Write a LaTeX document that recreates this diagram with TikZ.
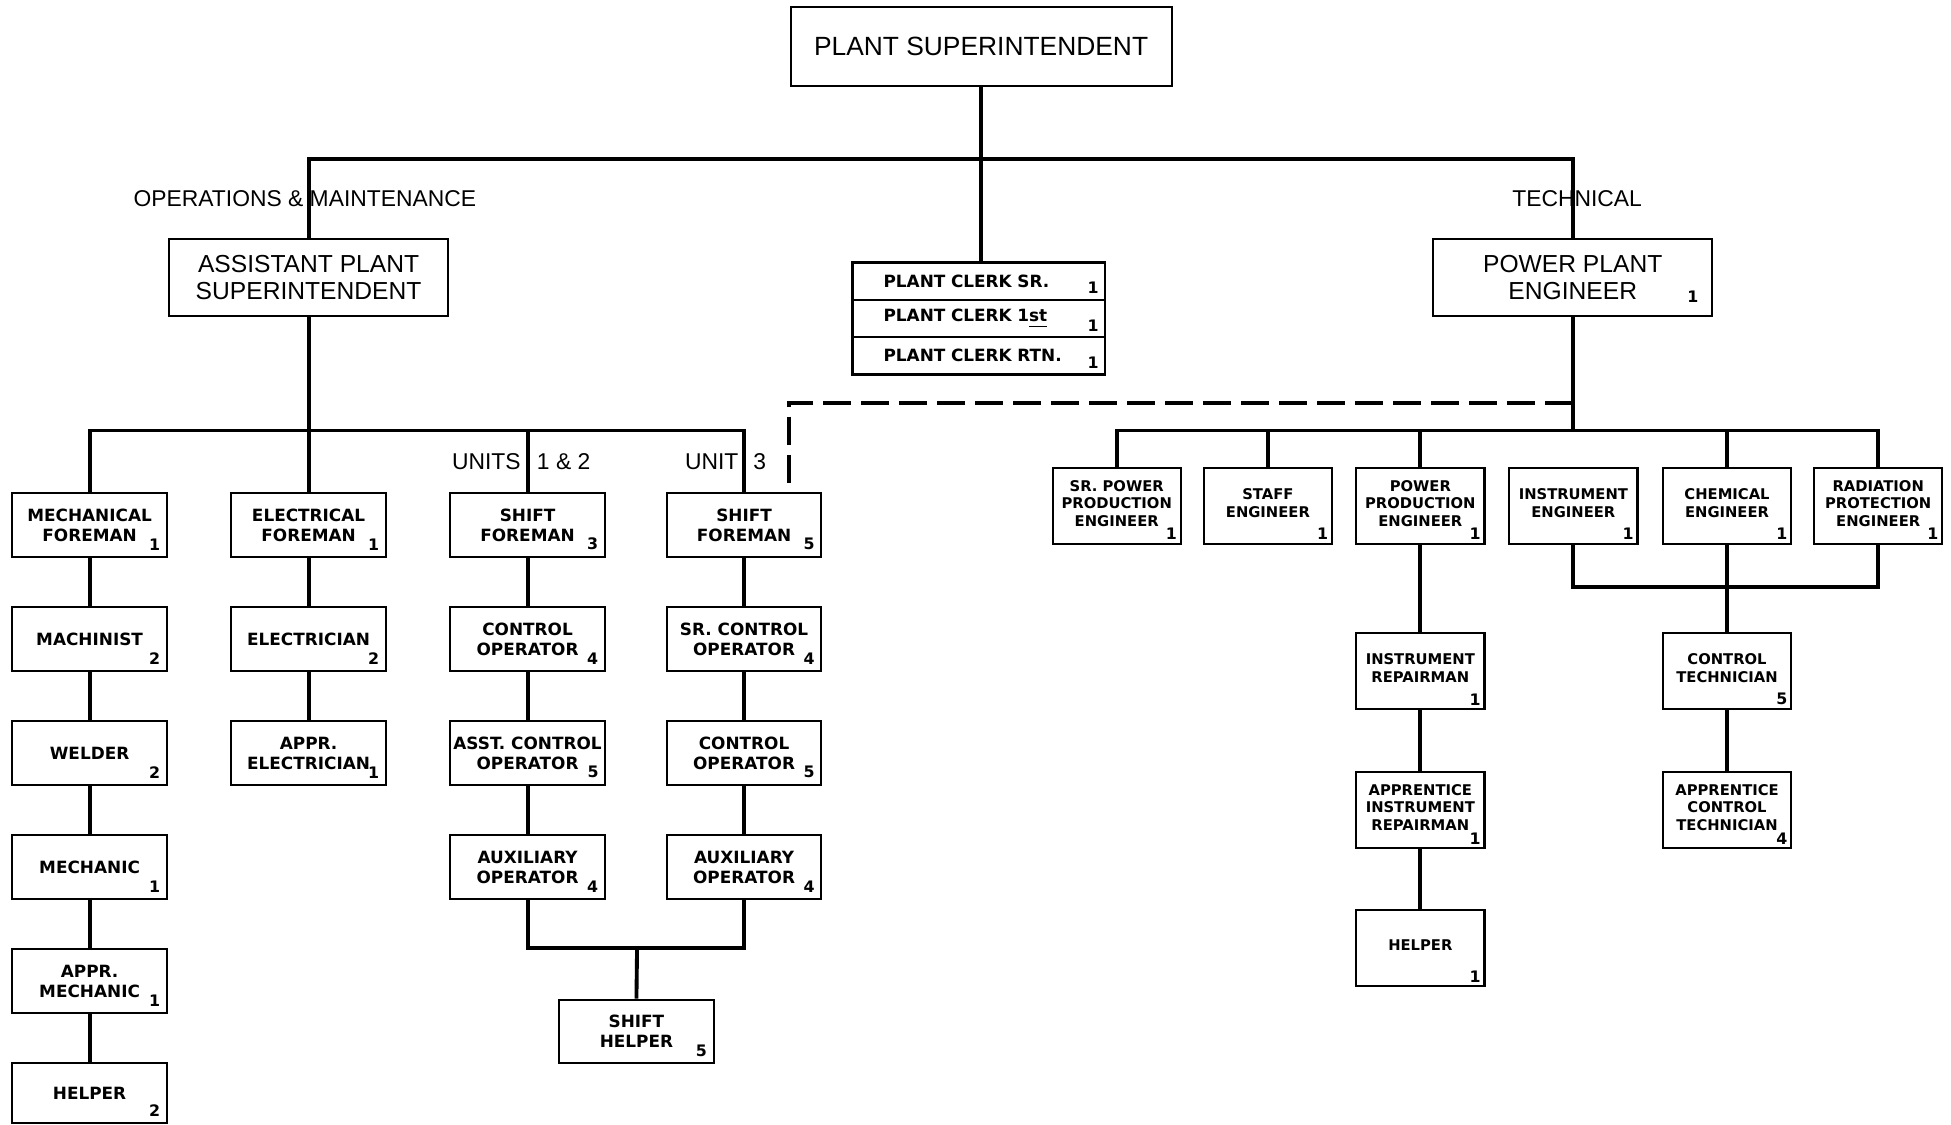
\documentclass[tikz,border=0pt]{standalone}
\usepackage{fontspec}
\newfontfamily\headfont{Liberation Sans}
\newfontfamily\boxfont{DejaVu Sans}
\usetikzlibrary{positioning, calc}

\begin{document}
\begin{tikzpicture}[x=0.012443cm, y=-0.012443cm, node distance=0.483cm,
    link/.style={line width=1.1pt},
    dashlink/.style={line width=1.1pt, dash pattern=on 8pt off 2.8pt},
    head/.style={draw, line width=0.6pt, align=center, font=\headfont\fontsize{7}{7.8}\selectfont},
    post/.style={draw, line width=0.6pt, align=center, inner sep=1pt,
        minimum width=1.543cm, minimum height=0.635cm,
        font=\boxfont\bfseries\fontsize{4.8}{5.7}\selectfont},
    tech/.style={post, minimum width=1.282cm, minimum height=0.759cm, text depth=1.5pt,
        font=\boxfont\bfseries\fontsize{4.2}{5}\selectfont},
    clerk/.style={post, minimum height=0.373cm, text width=1.9cm, inner xsep=0.31cm,
        align=left, outer sep=0pt},
    num/.style={anchor=south east, inner sep=2pt, font=\boxfont\bfseries\fontsize{4.5}{5}\selectfont},
    tnum/.style={num, inner sep=1.2pt},
    tag/.style={inner sep=0pt, font=\headfont\fontsize{6.5}{7}\selectfont}]
  \fill[white] (0,0) rectangle (1568,904);
  \useasboundingbox (0,0) rectangle (1568,904);

  % top of the chart
  \node[head, minimum width=3.808cm, minimum height=0.784cm,
        font=\headfont\fontsize{7.5}{8}\selectfont] (ps) at (788.5,37.5) {PLANT SUPERINTENDENT};
  \node[head, minimum width=2.787cm, minimum height=0.771cm] (aps) at (248,223) {ASSISTANT PLANT\\SUPERINTENDENT};
  \node[head, minimum width=2.787cm, minimum height=0.771cm,
        label={[num, inner sep=4pt]south east:1}] (ppe) at (1264,223) {POWER PLANT\\ENGINEER};
  \node[clerk, label={[num, inner sep=1.5pt]south east:1}] (clerka) at (786.5,226) {PLANT CLERK SR.};
  \node[clerk, below=0pt of clerka, label={[num, inner sep=1.5pt]south east:1}] (clerkb) {PLANT CLERK 1\underline{st}};
  \node[clerk, below=0pt of clerkb, label={[num, inner sep=1.5pt]south east:1}] (clerkc) {PLANT CLERK RTN.};

  \node[tag] (opm) at (245,160) {OPERATIONS \& MAINTENANCE};
  \node[tag] (techn) at (1267.5,160) {TECHNICAL};
  \node[tag, anchor=east] (unitsa) at (419,371) {UNITS};
  \node[tag, anchor=west] (unitsb) at (431,371) {1 \& 2};
  \node[tag, anchor=east] (unita) at (594,371) {UNIT};
  \node[tag, anchor=west] (unitb) at (605,371) {3};

  % operations & maintenance
  \node[post, label={[num]south east:1}] (mf) at (72,422) {MECHANICAL\\FOREMAN};
  \node[post, below=of mf, label={[num]south east:2}] (mach) {MACHINIST};
  \node[post, below=of mach, label={[num]south east:2}] (weld) {WELDER};
  \node[post, below=of weld, label={[num]south east:1}] (mech) {MECHANIC};
  \node[post, below=of mech, label={[num]south east:1}] (amech) {APPR.\\MECHANIC};
  \node[post, below=of amech, minimum height=0.6cm, label={[num]south east:2}] (help) {HELPER};

  \node[post, label={[num]south east:1}] (ef) at (248,422) {ELECTRICAL\\FOREMAN};
  \node[post, below=of ef, label={[num]south east:2}] (elec) {ELECTRICIAN};
  \node[post, below=of elec, label={[num]south east:1}] (aelec) {APPR.\\ELECTRICIAN};

  \node[post, label={[num]south east:3}] (sfa) at (424,422) {SHIFT\\FOREMAN};
  \node[post, below=of sfa, label={[num]south east:4}] (coa) {CONTROL\\OPERATOR};
  \node[post, below=of coa, label={[num]south east:5}] (acoa) {ASST. CONTROL\\OPERATOR};
  \node[post, below=of acoa, label={[num]south east:4}] (aoa) {AUXILIARY\\OPERATOR};

  \node[post, label={[num]south east:5}] (sfb) at (598,422) {SHIFT\\FOREMAN};
  \node[post, below=of sfb, label={[num]south east:4}] (scob) {SR. CONTROL\\OPERATOR};
  \node[post, below=of scob, label={[num]south east:5}] (cob) {CONTROL\\OPERATOR};
  \node[post, below=of cob, label={[num]south east:4}] (aob) {AUXILIARY\\OPERATOR};

  \node[post, label={[num]south east:5}] (sh) at (511.5,829) {SHIFT\\HELPER};

  % technical
  \node[tech, label={[tnum]south east:1}] (spe) at (897.5,406.5) {SR. POWER\\PRODUCTION\\ENGINEER};
  \node[tech, label={[tnum]south east:1}] (se) at (1019,406.5) {STAFF\\ENGINEER};
  \node[tech, label={[tnum]south east:1}] (ppre) at (1141.5,406.5) {POWER\\PRODUCTION\\ENGINEER};
  \node[tech, label={[tnum]south east:1}] (ie) at (1264.5,406.5) {INSTRUMENT\\ENGINEER};
  \node[tech, label={[tnum]south east:1}] (ce) at (1388,406.5) {CHEMICAL\\ENGINEER};
  \node[tech, label={[tnum]south east:1}] (rpe) at (1509.5,406.5) {RADIATION\\PROTECTION\\ENGINEER};

  \node[tech, below=0.87cm of ppre, label={[tnum]south east:1}] (ir) {INSTRUMENT\\REPAIRMAN};
  \node[tech, below=0.61cm of ir, label={[tnum]south east:1}] (air) {APPRENTICE\\INSTRUMENT\\REPAIRMAN};
  \node[tech, below=0.6cm of air, label={[tnum]south east:1}] (rhelp) {HELPER};
  \node[tech, below=0.87cm of ce, label={[tnum]south east:5}] (ct) {CONTROL\\TECHNICIAN};
  \node[tech, below=0.61cm of ct, label={[tnum]south east:4}] (act) {APPRENTICE\\CONTROL\\TECHNICIAN};

  % connectors
  \coordinate (topbar) at (788,128);
  \coordinate (leftbar) at (248,346);
  \coordinate (rightbar) at (1264,346);
  \coordinate (dashstart) at (1264,324);
  \coordinate (shiftjoin) at (512,762);
  \coordinate (techjoin) at (1388,472);

  \draw[link] (aps.north) |- (topbar) -| (ppe.north);
  \draw[link] (ps.south) -- (ps.south |- clerka.north);

  \draw[link] (aps.south) -- (leftbar);
  \draw[link] (mf.north) |- (leftbar) -| (sfb.north);
  \draw[link] (ef.north) -- (ef.north |- leftbar);
  \draw[link] (sfa.north) -- (sfa.north |- leftbar);
  \draw[link] (mf) -- (mach) -- (weld) -- (mech) -- (amech) -- (help);
  \draw[link] (ef) -- (elec) -- (aelec);
  \draw[link] (sfa) -- (coa) -- (acoa) -- (aoa);
  \draw[link] (sfb) -- (scob) -- (cob) -- (aob);
  \draw[link] (aoa.south) |- (shiftjoin) -| (aob.south);
  \draw[link] (shiftjoin) -- (sh.north);

  \draw[dashlink] (dashstart) -| ($(sfb.north east)+(-27,0)$);

  \draw[link] (ppe.south) -- (rightbar);
  \draw[link] (spe.north) |- (rightbar) -| (rpe.north);
  \draw[link] (se.north) -- (se.north |- rightbar);
  \draw[link] (ppre.north) -- (ppre.north |- rightbar);
  \draw[link] (ce.north) -- (ce.north |- rightbar);
  \draw[link] (ppre) -- (ir) -- (air) -- (rhelp);
  \draw[link] (ie.south) |- (techjoin) -| (rpe.south);
  \draw[link] (ce) -- (ct) -- (act);
\end{tikzpicture}
\end{document}
